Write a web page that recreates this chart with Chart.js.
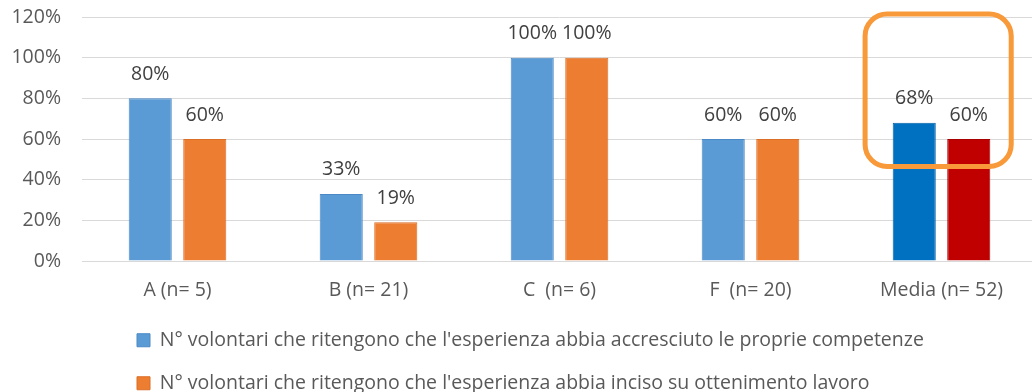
<!DOCTYPE html>
<html>
<head>
<meta charset="utf-8">
<script src="https://cdn.jsdelivr.net/npm/chart.js@4.4.0/dist/chart.umd.min.js"></script>
<style>
  html, body { margin: 0; padding: 0; background: #fff; overflow: hidden; }
  #wrap { position: relative; width: 1040px; height: 403px; }
</style>
</head>
<body>
<div id="wrap"><canvas id="chart"></canvas></div>
<script>
// Categories and shares (0..1) for the two survey questions
const categories = ['A (n= 5)', 'B (n= 21)', 'C  (n= 6)', 'F  (n= 20)', 'Media (n= 52)'];
const competenze = [0.80, 0.33, 1.00, 0.60, 0.68];
const lavoro = [0.60, 0.19, 1.00, 0.60, 0.60];
const seriesNames = [
    "N° volontari che ritengono che l'esperienza abbia accresciuto le proprie competenze",
    "N° volontari che ritengono che l'esperienza abbia inciso su ottenimento lavoro"
];
const yTicks = [0, 0.2, 0.4, 0.6, 0.8, 1.0, 1.2];

const FONT = '"Open Sans", sans-serif';
const SIZE = 19.5;
const mediaIndex = categories.length - 1;

// last bar of each series (the average) gets its own darker colour
function barColors(base, media) {
    return categories.map((c, i) => i === mediaIndex ? media : base);
}

/**
 * Percent labels above every bar
 */
const valueLabels = {
    id: 'valueLabels',
    afterDatasetsDraw(chart) {
        const ctx = chart.ctx;
        ctx.save();
        ctx.font = SIZE + 'px ' + FONT;
        ctx.fillStyle = '#404040';
        ctx.textAlign = 'center';
        ctx.textBaseline = 'middle';
        chart.data.datasets.forEach((ds, i) => {
            chart.getDatasetMeta(i).data.forEach((bar, j) => {
                ctx.fillText(Math.round(ds.data[j] * 100) + '%', bar.x, bar.y - 24);
            });
        });
        ctx.restore();
    }
};

/**
 * Rounded orange frame around the average group
 */
const mediaFrame = {
    id: 'mediaFrame',
    afterDraw(chart) {
        const xs = chart.scales.x, ys = chart.scales.y;
        const x0 = xs.getPixelForValue(mediaIndex - 0.4);
        const x1 = xs.getPixelForValue(mediaIndex + 0.365);
        const y0 = ys.getPixelForValue(1.215);
        const y1 = ys.getPixelForValue(0.465);
        const ctx = chart.ctx;
        ctx.save();
        ctx.strokeStyle = '#F8993A';
        ctx.lineWidth = 5;
        ctx.beginPath();
        ctx.roundRect(x0, y0, x1 - x0, y1 - y0, 22);
        ctx.stroke();
        ctx.restore();
    }
};

// legend rows start indented instead of at the canvas edge
const legendIndent = {
    id: 'legendIndent',
    afterLayout(chart) {
        chart.legend.left = 113.5;
    }
};

const pctTick = v => Math.round(v * 100) + '%';

new Chart(document.getElementById('chart'), {
    type: 'bar',
    data: {
        labels: categories,
        datasets: [{
            label: seriesNames[0],
            data: competenze,
            backgroundColor: barColors('#5B9BD5', '#0070C0'),
            borderColor: barColors('#4A89C6', '#0062A8'),
            borderWidth: 1
        }, {
            label: seriesNames[1],
            data: lavoro,
            backgroundColor: barColors('#ED7D31', '#C00000'),
            borderColor: barColors('#DC6F27', '#A80000'),
            borderWidth: 1
        }]
    },
    options: {
        responsive: true,
        maintainAspectRatio: false,
        animation: false,
        categoryPercentage: 0.571,
        barPercentage: 0.79,
        layout: { padding: { top: 17, left: 12, right: 3, bottom: 0 } },
        scales: {
            x: {
                grid: { display: false, drawTicks: false },
                border: { color: '#D9D9D9' },
                ticks: { color: '#595959', font: { family: FONT, size: SIZE }, padding: 18, maxRotation: 0, autoSkip: false },
                afterFit(scale) {
                    scale.height = 46;
                    scale.paddingLeft = 0;
                    scale.paddingRight = 0;
                }
            },
            y: {
                min: 0,
                max: 1.2,
                afterBuildTicks(scale) { scale.ticks = yTicks.map(v => ({ value: v })); },
                grid: { color: '#D9D9D9', drawTicks: false },
                border: { display: false },
                ticks: { color: '#595959', font: { family: FONT, size: SIZE }, padding: 21, callback: pctTick },
                afterFit(scale) {
                    scale.width = 70;
                    scale.paddingTop = 0;
                    scale.paddingBottom = 0;
                }
            }
        },
        plugins: {
            legend: {
                position: 'bottom',
                align: 'start',
                labels: {
                    color: '#595959',
                    font: { family: FONT, size: SIZE },
                    boxWidth: 13,
                    boxHeight: 13,
                    padding: 23.5
                }
            },
            tooltip: { enabled: false }
        }
    },
    plugins: [valueLabels, mediaFrame, legendIndent]
});
</script>
</body>
</html>
